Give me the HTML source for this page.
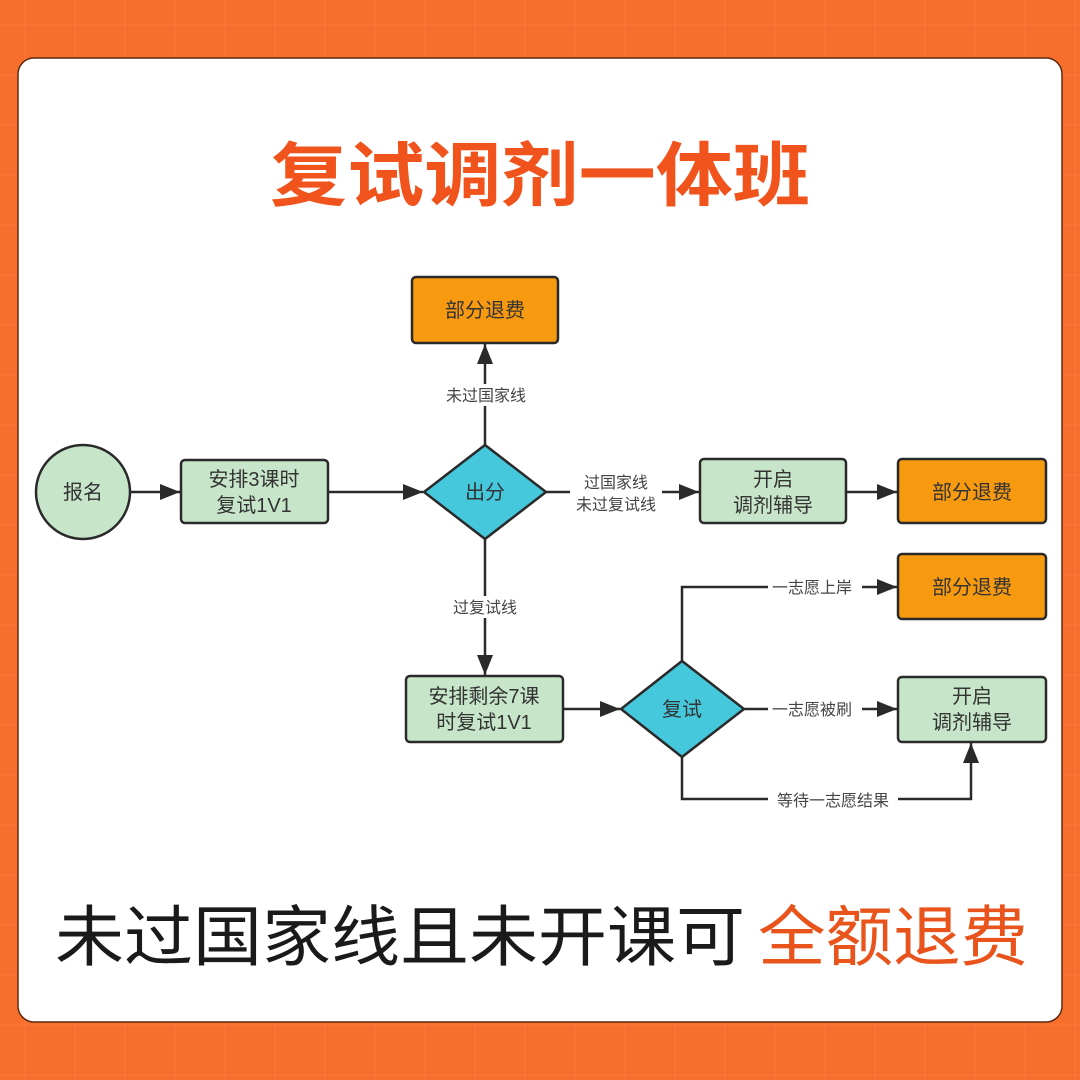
<!DOCTYPE html>
<html><head><meta charset="utf-8"><style>
html,body{margin:0;padding:0;width:1080px;height:1080px;overflow:hidden;background:#f86f2d;}
svg{display:block}
text{font-family:"Liberation Sans","Noto Sans CJK SC",sans-serif;}
</style></head><body>
<svg width="1080" height="1080" viewBox="0 0 1080 1080" xmlns="http://www.w3.org/2000/svg">
<defs>
<pattern id="g" width="50" height="50" patternUnits="userSpaceOnUse">
<path d="M0 25H50M25 0V50" stroke="#fa7a3c" stroke-width="1"/>
</pattern>
<marker id="b" viewBox="0 0 20 16" markerWidth="20" markerHeight="16" refX="20" refY="8" orient="auto" markerUnits="userSpaceOnUse">
<path d="M0 0L20 8L0 16Z" fill="#2a2a2a"/>
</marker>
</defs>
<rect width="1080" height="1080" fill="#f86f2d"/>
<rect width="1080" height="1080" fill="url(#g)"/>
<rect x="18" y="58" width="1044" height="964" rx="16" fill="#fff" stroke="#5a2a10" stroke-width="1.5"/>

<text x="540" y="200" text-anchor="middle" font-size="70" font-weight="bold" fill="#f0531c" textLength="540" lengthAdjust="spacingAndGlyphs">复试调剂一体班</text>

<g stroke="#2a2a2a" stroke-width="2.5" fill="none">
<line x1="131" y1="492" x2="180" y2="492" marker-end="url(#b)"/>
<line x1="328" y1="492" x2="423" y2="492" marker-end="url(#b)"/>
<line x1="485" y1="445" x2="485" y2="344" marker-end="url(#b)"/>
<line x1="546" y1="492" x2="699" y2="492" marker-end="url(#b)"/>
<line x1="846" y1="492" x2="897" y2="492" marker-end="url(#b)"/>
<line x1="485" y1="539" x2="485" y2="675" marker-end="url(#b)"/>
<line x1="563" y1="709" x2="620" y2="709" marker-end="url(#b)"/>
<polyline points="682,661 682,587 897,587" marker-end="url(#b)"/>
<line x1="744" y1="709" x2="897" y2="709" marker-end="url(#b)"/>
<polyline points="682,757 682,799 971,799 971,743" marker-end="url(#b)"/>
</g>

<g stroke="#2a2a2a" stroke-width="2.5">
<circle cx="83" cy="492" r="47" fill="#c6e5c9"/>
<rect x="181" y="460" width="147" height="63" rx="4" fill="#c6e5c9"/>
<polygon points="424,492 485,445 546,492 485,539" fill="#45c7dc"/>
<rect x="412" y="277" width="146" height="66" rx="4" fill="#f79a10"/>
<rect x="700" y="459" width="146" height="64" rx="4" fill="#c6e5c9"/>
<rect x="898" y="459" width="148" height="64" rx="4" fill="#f79a10"/>
<rect x="406" y="676" width="157" height="66" rx="4" fill="#c6e5c9"/>
<polygon points="621,709 682,661 744,709 682,757" fill="#45c7dc"/>
<rect x="898" y="554" width="148" height="65" rx="4" fill="#f79a10"/>
<rect x="898" y="677" width="148" height="65" rx="4" fill="#c6e5c9"/>
</g>

<g font-size="20" fill="#333" text-anchor="middle">
<text x="83" y="499">报名</text>
<text x="254" y="486">安排3课时</text>
<text x="254" y="512">复试1V1</text>
<text x="485" y="499">出分</text>
<text x="485" y="317">部分退费</text>
<text x="773" y="486">开启</text>
<text x="773" y="512">调剂辅导</text>
<text x="972" y="499">部分退费</text>
<text x="484" y="703">安排剩余7课</text>
<text x="484" y="729">时复试1V1</text>
<text x="682" y="716">复试</text>
<text x="972" y="594">部分退费</text>
<text x="972" y="703">开启</text>
<text x="972" y="729">调剂辅导</text>
</g>

<g font-size="16" fill="#444" text-anchor="middle">
<rect x="438" y="384" width="94" height="22" fill="#fff"/>
<text x="486" y="401">未过国家线</text>
<rect x="570" y="470" width="92" height="44" fill="#fff"/>
<text x="616" y="488">过国家线</text>
<text x="616" y="510">未过复试线</text>
<rect x="446" y="596" width="78" height="22" fill="#fff"/>
<text x="485" y="613">过复试线</text>
<rect x="768" y="577" width="94" height="20" fill="#fff"/>
<text x="812" y="593">一志愿上岸</text>
<rect x="768" y="699" width="94" height="20" fill="#fff"/>
<text x="812" y="715">一志愿被刷</text>
<rect x="768" y="789" width="130" height="20" fill="#fff"/>
<text x="833" y="806">等待一志愿结果</text>
</g>

<text x="55" y="960" font-size="66" fill="#1a1a1a" textLength="690" lengthAdjust="spacingAndGlyphs">未过国家线且未开课可</text>
<text x="758" y="960" font-size="66" fill="#e8541c" textLength="270" lengthAdjust="spacingAndGlyphs">全额退费</text>
</svg>
</body></html>
